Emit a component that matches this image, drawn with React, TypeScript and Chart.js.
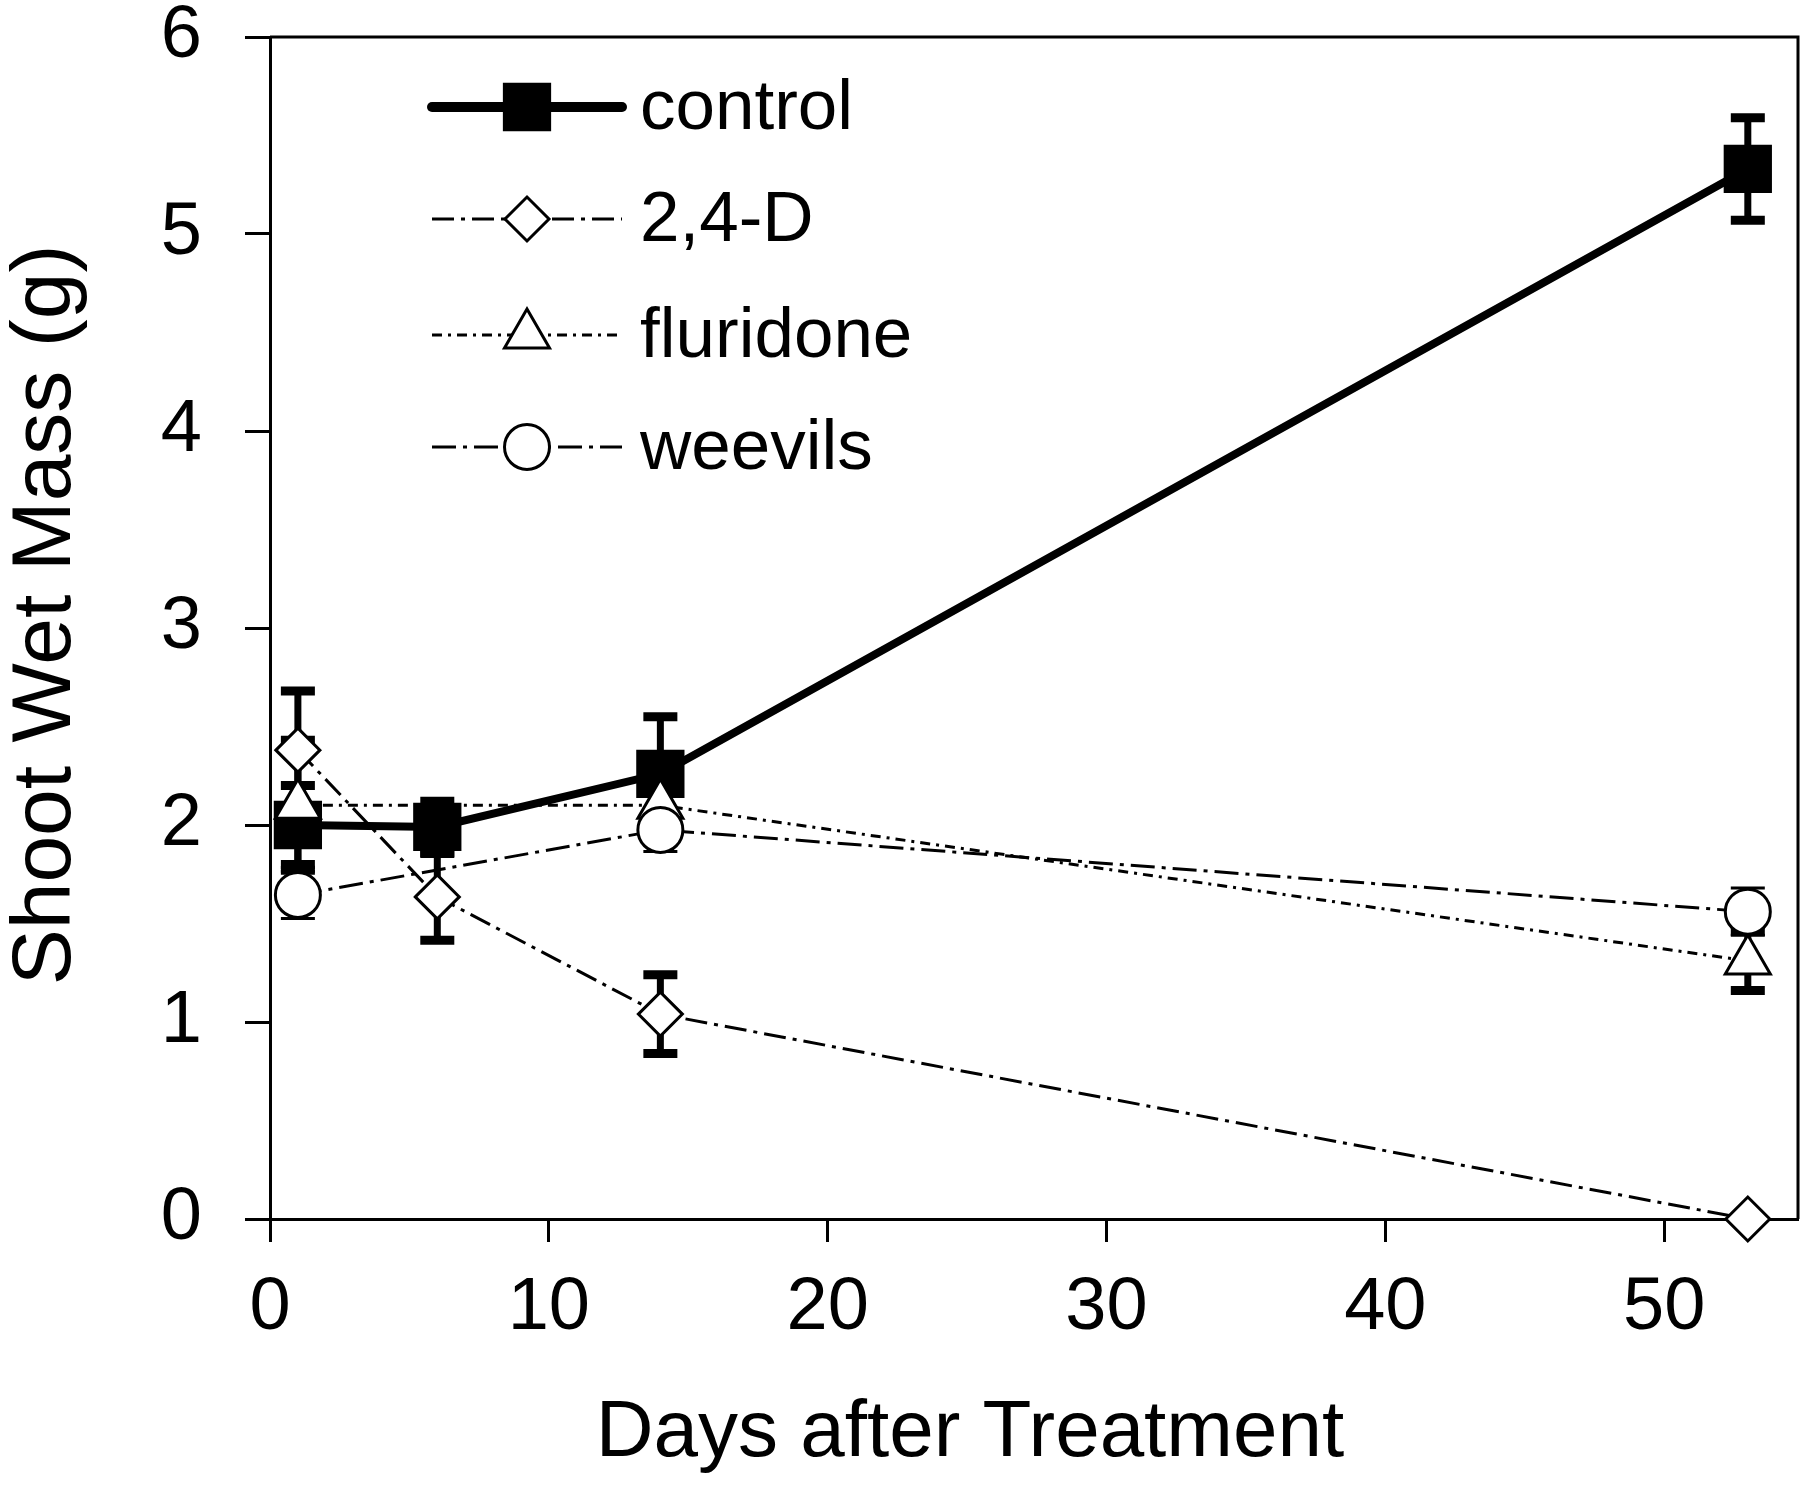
import React, { useEffect, useRef } from "react";
import { Chart, registerables } from "chart.js";
import { drawPoint } from "chart.js/helpers";

Chart.register(...registerables);

// ---- data ----
const seriesNames = ["control", "2,4-D", "fluridone", "weevils"];

const controlDays = [1, 6, 14, 53];
const controlMass = [2.0, 1.99, 2.26, 5.33];
const controlErr = [0.2, 0.13, 0.29, 0.26];

const d24Days = [1, 6, 14, 53];
const d24Mass = [2.38, 1.635, 1.04, 0.0];
const d24Err = [0.3, 0.22, 0.2, 0];

const fluDays = [1, 14, 53];
const fluMass = [2.1, 2.1, 1.31];
const fluErr = [0.33, 0.1, 0.15];

const weeDays = [1, 14, 53];
const weeMass = [1.645, 1.975, 1.56];
const weeErr = [0.12, 0.11, 0.12];

const xTitle = "Days after Treatment";
const yTitle = "Shoot Wet Mass (g)";

const FONT = "'Liberation Sans', Arial, Helvetica, sans-serif";

const toPoints = (xs: number[], ys: number[]) => xs.map((x, i) => ({ x, y: ys[i] }));

const errorBarPlugin = {
  id: "errorBars",
  beforeDatasetsDraw(chart: any) {
    const ctx = chart.ctx;
    const yScale = chart.scales.y;
    chart.data.datasets.forEach((ds: any, di: number) => {
      const meta = chart.getDatasetMeta(di);
      const errs: number[] = ds.errors || [];
      meta.data.forEach((pt: any, i: number) => {
        const e = errs[i];
        if (!e) return;
        const v = ds.data[i].y;
        const x = pt.x;
        const yTop = yScale.getPixelForValue(v + e);
        const yBot = yScale.getPixelForValue(v - e);
        ctx.save();
        ctx.strokeStyle = "#000";
        ctx.lineCap = "butt";
        ctx.lineWidth = ds.errStem;
        ctx.beginPath();
        ctx.moveTo(x, yTop);
        ctx.lineTo(x, yBot);
        ctx.stroke();
        ctx.lineWidth = ds.errCap;
        ctx.beginPath();
        ctx.moveTo(x - 17, yTop);
        ctx.lineTo(x + 17, yTop);
        ctx.moveTo(x - 17, yBot);
        ctx.lineTo(x + 17, yBot);
        ctx.stroke();
        ctx.restore();
      });
    });
  },
};

const framePlugin = {
  id: "frameAndText",
  afterDraw(chart: any) {
    const ctx = chart.ctx;
    const a = chart.chartArea;
    ctx.save();
    // top and right frame
    ctx.strokeStyle = "#000";
    ctx.lineWidth = 3;
    ctx.beginPath();
    ctx.moveTo(a.left, a.top);
    ctx.lineTo(a.right, a.top);
    ctx.lineTo(a.right, a.bottom);
    ctx.stroke();

    // axis titles
    ctx.fillStyle = "#000";
    ctx.textAlign = "center";
    ctx.textBaseline = "alphabetic";
    ctx.font = `80px ${FONT}`;
    ctx.fillText(xTitle, 970, 1456);
    ctx.save();
    ctx.font = `84px ${FONT}`;
    ctx.translate(70, 615);
    ctx.rotate(-Math.PI / 2);
    ctx.fillText(yTitle, 0, 0);
    ctx.restore();

    // legend
    const lx0 = 432;
    const lx1 = 622;
    const mx = 527;
    const tx = 640;
    const rowY = [107, 219, 335, 447];
    chart.data.datasets.forEach((ds: any, i: number) => {
      const y = rowY[i];
      ctx.save();
      ctx.strokeStyle = "#000";
      ctx.lineWidth = ds.legendLineWidth;
      ctx.lineCap = ds.legendLineWidth > 5 ? "round" : "butt";
      ctx.setLineDash(ds.borderDash || []);
      ctx.beginPath();
      ctx.moveTo(lx0, y);
      ctx.lineTo(lx1, y);
      ctx.stroke();
      ctx.setLineDash([]);
      ctx.fillStyle = ds.pointBackgroundColor;
      ctx.strokeStyle = "#000";
      ctx.lineWidth = ds.pointBorderWidth;
      drawPoint(ctx, {
        pointStyle: ds.pointStyle,
        radius: ds.pointRadius,
        rotation: 0,
        borderWidth: ds.pointBorderWidth,
      } as any, mx, y);
      ctx.fillStyle = "#000";
      ctx.font = `71px ${FONT}`;
      ctx.textAlign = "left";
      ctx.textBaseline = "middle";
      ctx.fillText(ds.label, tx, y + 2);
      ctx.restore();
    });
    ctx.restore();
  },
};

export default function App() {
  const canvasRef = useRef<HTMLCanvasElement | null>(null);

  useEffect(() => {
    document.body.style.margin = "0";
    const canvas = canvasRef.current;
    if (!canvas) return;
    const common = {
      borderColor: "#000",
      pointBorderColor: "#000",
      pointBorderWidth: 3,
      clip: false,
      tension: 0,
      fill: false,
    };
    const chart = new Chart(canvas, {
      type: "line",
      data: {
        datasets: [
          {
            ...common,
            label: seriesNames[0],
            data: toPoints(controlDays, controlMass),
            borderWidth: 8,
            borderDash: [],
            pointStyle: "rect",
            pointRadius: 32,
            pointHoverRadius: 32,
            pointBackgroundColor: "#000",
            order: 4,
            errors: controlErr,
            errStem: 7,
            errCap: 9,
            legendLineWidth: 10,
          } as any,
          {
            ...common,
            label: seriesNames[1],
            data: toPoints(d24Days, d24Mass),
            borderWidth: 3,
            borderDash: [22, 7, 4, 7],
            pointStyle: "rectRot",
            pointRadius: 22,
            pointHoverRadius: 22,
            pointBackgroundColor: "#fff",
            order: 3,
            errors: d24Err,
            errStem: 7,
            errCap: 9,
            legendLineWidth: 3,
          } as any,
          {
            ...common,
            label: seriesNames[2],
            data: toPoints(fluDays, fluMass),
            borderWidth: 3,
            borderDash: [10, 6, 3, 6],
            pointStyle: "triangle",
            pointRadius: 26,
            pointHoverRadius: 26,
            pointBackgroundColor: "#fff",
            order: 2,
            errors: fluErr,
            errStem: 7,
            errCap: 9,
            legendLineWidth: 3,
          } as any,
          {
            ...common,
            label: seriesNames[3],
            data: toPoints(weeDays, weeMass),
            borderWidth: 3,
            borderDash: [24, 7, 4, 7],
            pointStyle: "circle",
            pointRadius: 22.5,
            pointHoverRadius: 22.5,
            pointBackgroundColor: "#fff",
            order: 1,
            errors: weeErr,
            errStem: 3,
            errCap: 3,
            legendLineWidth: 3,
          } as any,
        ],
      },
      options: {
        animation: false,
        responsive: false,
        devicePixelRatio: 1,
        events: [],
        layout: { autoPadding: false, padding: { left: 0, top: 37, right: 12, bottom: 0 } },
        plugins: {
          legend: { display: false },
          tooltip: { enabled: false },
          title: { display: false },
        },
        scales: {
          x: {
            type: "linear",
            min: 0,
            max: 54.8,
            ticks: {
              stepSize: 10,
              includeBounds: false,
              color: "#000",
              font: { family: FONT, size: 74 },
              padding: 22,
              maxRotation: 0,
            },
            grid: {
              display: true,
              drawOnChartArea: false,
              drawTicks: true,
              tickLength: 23,
              tickColor: "#000",
              tickWidth: 3,
            },
            border: { display: true, color: "#000", width: 3 },
            afterFit: (s: any) => {
              s.height = 275;
              s.paddingLeft = 0;
              s.paddingRight = 0;
            },
          },
          y: {
            type: "linear",
            min: 0,
            max: 6,
            ticks: {
              stepSize: 1,
              color: "#000",
              font: { family: FONT, size: 74 },
              padding: 43,
            },
            grid: {
              display: true,
              drawOnChartArea: false,
              drawTicks: true,
              tickLength: 25,
              tickColor: "#000",
              tickWidth: 3,
            },
            border: { display: true, color: "#000", width: 3 },
            afterFit: (s: any) => {
              s.width = 270;
              s.paddingTop = 0;
              s.paddingBottom = 0;
            },
          },
        },
      } as any,
      plugins: [errorBarPlugin, framePlugin],
    });
    return () => chart.destroy();
  }, []);

  return (
    <div style={{ position: "absolute", left: 0, top: 0, width: 1810, height: 1494, background: "#fff" }}>
      <canvas ref={canvasRef} width={1810} height={1494} style={{ display: "block" }} />
    </div>
  );
}
